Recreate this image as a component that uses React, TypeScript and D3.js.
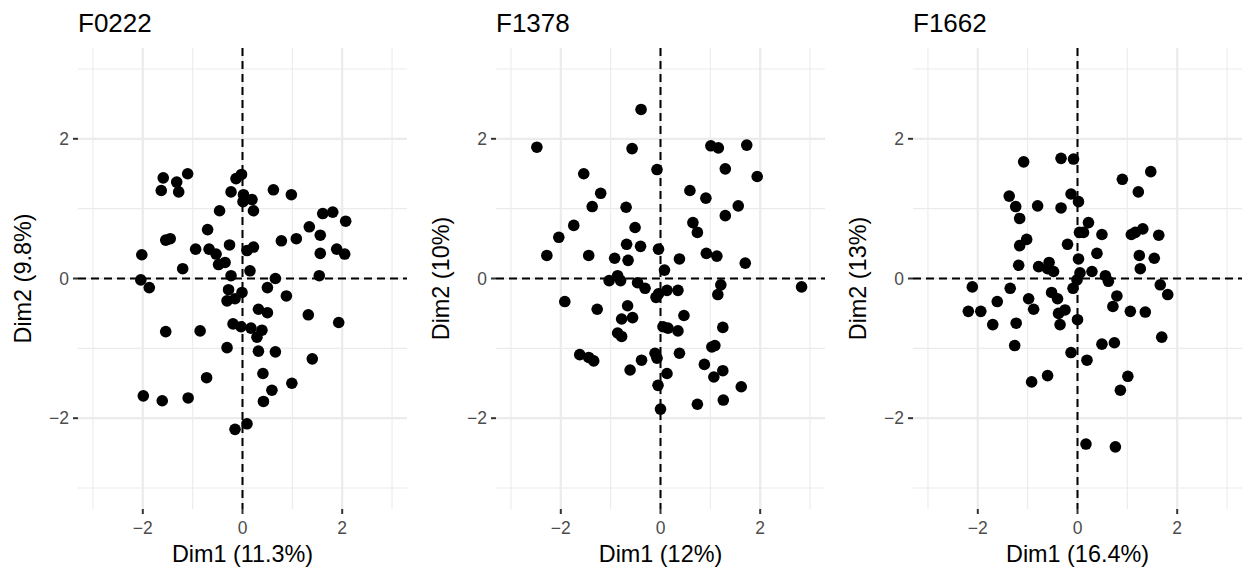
import * as d3 from 'd3';

// scores for each sample
const f0222X = [-1.59, -1.63, -1.32, -1.28, -1.10, -0.13, -0.02, -0.23, 0.02, 0.01, 0.19, 0.22, -0.46, 0.62, 0.98, 1.61, 1.81, 2.07, 1.34, 1.56, 0.78, 1.08, 1.56, 1.89, 2.05, 1.54, -0.70, -1.54, -1.45, -2.02, -0.94, -0.67, -0.53, -0.26, -0.48, -0.35, -1.20, -0.23, 0.09, 0.22, 0.15, 0.66, -2.04, -1.87, 0.50, -0.28, -0.31, -0.15, -0.01, 0.88, 0.32, 0.50, 1.32, 1.93, -1.54, -0.85, -0.19, -0.03, 0.17, 0.39, 0.29, -0.31, 0.32, 0.66, 1.40, -0.72, 0.41, 0.99, 0.59, 0.42, -1.99, -1.61, -1.09, -0.15, 0.09];
const f0222Y = [1.44, 1.26, 1.38, 1.24, 1.50, 1.43, 1.49, 1.24, 1.20, 1.10, 1.13, 0.97, 0.97, 1.27, 1.20, 0.93, 0.95, 0.82, 0.74, 0.62, 0.54, 0.57, 0.36, 0.42, 0.35, 0.04, 0.70, 0.55, 0.57, 0.34, 0.42, 0.42, 0.35, 0.48, 0.20, 0.23, 0.14, 0.04, 0.40, 0.45, 0.11, 0.00, -0.02, -0.13, -0.13, -0.16, -0.32, -0.29, -0.20, -0.25, -0.44, -0.49, -0.52, -0.63, -0.76, -0.75, -0.65, -0.69, -0.71, -0.74, -0.84, -0.99, -1.04, -1.05, -1.15, -1.42, -1.36, -1.50, -1.60, -1.76, -1.68, -1.75, -1.71, -2.16, -2.08];

const f1378X = [-2.48, -0.39, -0.57, -0.07, 1.01, 1.16, 1.73, 1.30, 1.94, -1.54, -1.20, -1.37, -0.69, 0.59, 0.91, 1.56, 1.30, -1.74, -2.04, -0.51, 0.65, 0.74, -2.28, -1.44, -0.92, -0.68, -0.40, -0.65, -0.04, 0.38, 0.92, 1.13, 1.70, 0.08, -1.03, -0.86, -0.80, -0.46, -0.31, -0.09, -0.04, 0.13, 0.35, 1.21, 1.15, 2.83, -1.92, -1.27, -0.66, -0.78, -0.56, 0.47, 0.05, 0.15, 0.35, 1.25, -0.86, -0.78, -1.62, -1.44, -1.34, -0.38, -0.11, -0.07, 0.38, 1.03, 1.09, 0.88, 1.07, 1.25, -0.61, 0.13, -0.05, 1.62, 1.26, 0.74, 0.00];
const f1378Y = [1.88, 2.42, 1.86, 1.56, 1.90, 1.87, 1.91, 1.57, 1.46, 1.50, 1.22, 1.03, 1.02, 1.26, 1.15, 1.04, 0.90, 0.76, 0.59, 0.73, 0.80, 0.66, 0.33, 0.33, 0.29, 0.49, 0.46, 0.26, 0.42, 0.28, 0.36, 0.32, 0.22, 0.12, -0.03, 0.04, -0.03, -0.06, -0.14, -0.27, -0.22, -0.17, -0.17, -0.09, -0.23, -0.12, -0.33, -0.44, -0.39, -0.58, -0.56, -0.53, -0.69, -0.71, -0.75, -0.70, -0.78, -0.83, -1.09, -1.13, -1.18, -1.17, -1.07, -1.14, -1.07, -0.98, -0.96, -1.23, -1.41, -1.32, -1.31, -1.36, -1.53, -1.55, -1.74, -1.80, -1.87];

const f1662X = [-1.08, -0.33, -0.08, 1.47, 0.90, 1.22, -1.37, -1.24, -0.80, -0.33, -0.13, 0.02, -1.16, 0.22, 0.04, 0.12, 0.49, 1.08, 1.16, 1.31, 1.63, -1.02, -1.16, -0.20, 0.39, 1.24, 1.54, 0.02, -1.18, -0.78, -0.57, -0.60, -0.48, 0.29, 0.05, 1.26, -0.01, 0.56, 0.62, -2.11, -1.35, -0.09, 1.66, 1.81, -1.61, -0.98, -0.52, -0.40, 0.79, -2.19, -1.94, -0.88, -0.38, -0.25, 0.71, 1.06, 1.36, -1.70, -1.23, -0.35, 0.00, -1.26, 1.69, -0.13, 0.49, 0.74, 0.19, -0.92, -0.60, 1.01, 0.86, 0.17, 0.76];
const f1662Y = [1.67, 1.72, 1.71, 1.53, 1.42, 1.24, 1.18, 1.03, 1.04, 1.01, 1.21, 1.10, 0.86, 0.80, 0.66, 0.66, 0.63, 0.63, 0.66, 0.71, 0.62, 0.56, 0.47, 0.49, 0.36, 0.33, 0.29, 0.28, 0.19, 0.17, 0.23, 0.14, 0.10, 0.10, 0.08, 0.14, -0.02, 0.04, -0.04, -0.12, -0.14, -0.14, -0.09, -0.23, -0.33, -0.29, -0.20, -0.29, -0.25, -0.47, -0.47, -0.44, -0.50, -0.45, -0.40, -0.47, -0.48, -0.66, -0.64, -0.66, -0.59, -0.96, -0.84, -1.06, -0.94, -0.92, -1.17, -1.48, -1.39, -1.40, -1.60, -2.37, -2.41];

const panelTitles = ['F0222', 'F1378', 'F1662'];
const xTitles = ['Dim1 (11.3%)', 'Dim1 (12%)', 'Dim1 (16.4%)'];
const yTitles = ['Dim2 (9.8%)', 'Dim2 (10%)', 'Dim2 (13%)'];
const majorTicks = [-2, 0, 2];
const minorTicks = [-3, -1, 1, 3];

const font = '"Liberation Sans", Arial, sans-serif';

const Panel = ({ idx, xs, ys, left }: { idx: number; xs: number[]; ys: number[]; left: number }) => {
    const top = 48;
    const w = 329;
    const h = 461;

    const x = d3.scaleLinear().domain([-3.3, 3.3]).range([left, left + w]);
    const y = d3.scaleLinear().domain([-3.3, 3.3]).range([top + h, top]);
    const fmt = x.tickFormat(5, 'd');

    return (
        <g>
            {/* grid */}
            {minorTicks.map(t => (
                <g key={'mn' + t}>
                    <line x1={x(t)} x2={x(t)} y1={top} y2={top + h} stroke="#ebebeb" strokeWidth={1.1} />
                    <line x1={left} x2={left + w} y1={y(t)} y2={y(t)} stroke="#ebebeb" strokeWidth={1.1} />
                </g>
            ))}
            {majorTicks.map(t => (
                <g key={'mj' + t}>
                    <line x1={x(t)} x2={x(t)} y1={top} y2={top + h} stroke="#ebebeb" strokeWidth={2.2} />
                    <line x1={left} x2={left + w} y1={y(t)} y2={y(t)} stroke="#ebebeb" strokeWidth={2.2} />
                </g>
            ))}

            {/* zero lines */}
            <line x1={x(0)} x2={x(0)} y1={top} y2={top + h} stroke="black" strokeWidth={2} strokeDasharray="8,5" />
            <line x1={left} x2={left + w} y1={y(0)} y2={y(0)} stroke="black" strokeWidth={2} strokeDasharray="8,5" />

            {/* points */}
            {xs.map((v, i) => (
                <circle key={i} cx={x(v)} cy={y(ys[i])} r={5.8} fill="black" />
            ))}

            {/* axes */}
            {majorTicks.map(t => (
                <g key={'ax' + t}>
                    <line x1={left - 5} x2={left} y1={y(t)} y2={y(t)} stroke="#333" strokeWidth={2} />
                    <text x={left - 9} y={y(t)} dy="0.36em" textAnchor="end" fontSize={17.5} fill="#4d4d4d">{fmt(t)}</text>
                    <line x1={x(t)} x2={x(t)} y1={top + h} y2={top + h + 5} stroke="#333" strokeWidth={2} />
                    <text x={x(t)} y={top + h + 25} textAnchor="middle" fontSize={17.5} fill="#4d4d4d">{fmt(t)}</text>
                </g>
            ))}

            <text x={left} y={32} fontSize={26} fill="black">{panelTitles[idx]}</text>
            <text x={left + w / 2} y={562} textAnchor="middle" fontSize={23.4} fill="black">{xTitles[idx]}</text>
            <text transform={`translate(${left - 47},${y(0)}) rotate(-90)`} textAnchor="middle" fontSize={23.4} fill="black">{yTitles[idx]}</text>
        </g>
    );
};

const App = () => {
    const lefts = [78, 496, 913];
    const panels = [
        [f0222X, f0222Y],
        [f1378X, f1378Y],
        [f1662X, f1662Y],
    ];
    return (
        <svg width={1248} height={571} style={{ position: 'absolute', left: 0, top: 0, background: 'white', fontFamily: font }}>
            <rect width={1248} height={571} fill="white" />
            {panels.map((p, i) => (
                <Panel key={i} idx={i} xs={p[0]} ys={p[1]} left={lefts[i]} />
            ))}
        </svg>
    );
};

export default App;
